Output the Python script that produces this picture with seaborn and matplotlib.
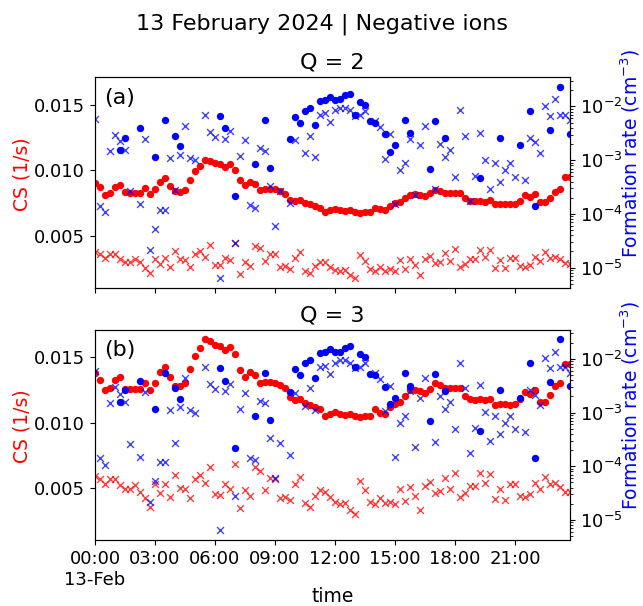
"""Condensation sink and formation rate of negative ions, 13 Feb 2024."""

import matplotlib

matplotlib.use("Agg")
import matplotlib.dates as mdates
import matplotlib.pyplot as plt
import matplotlib.ticker as ticker
import numpy as np
import pandas as pd
import seaborn as sns

nan = np.nan

# 15-min timestamps for the day
times = pd.date_range("2024-02-13 00:00", "2024-02-13 23:45", freq="15min")

# CS (1/s), Q = 2 : dots and crosses
cs_q2_dot = [
    0.00905, 0.00869, 0.00813, 0.00828, 0.00869, 0.00887, 0.00831, 0.00823, 0.00823, 0.00823,
    0.00862, 0.00818, 0.00856, 0.00912, 0.00938, 0.00882, 0.00844, 0.00836, 0.00849, 0.00925,
    0.00994, 0.01035, 0.01078, 0.01073, 0.01052, 0.01045, 0.01027, 0.01045, 0.01002, 0.00925,
    0.00884, 0.00910, 0.00892, 0.00849, 0.00859, 0.00854, 0.00854, 0.00841, 0.00821, 0.00772,
    0.00765, 0.00770, 0.00752, 0.00739, 0.00727, 0.00714, 0.00681, 0.00694, 0.00701, 0.00696,
    0.00688, 0.00696, 0.00683, 0.00676, 0.00681, 0.00681, 0.00714, 0.00701, 0.00696, 0.00727,
    0.00747, 0.00760, 0.00785, 0.00811, 0.00816, 0.00811, 0.00803, 0.00823, 0.00849, 0.00841,
    0.00823, 0.00828, 0.00828, 0.00828, 0.00785, 0.00765, 0.00765, 0.00765, 0.00760, 0.00772,
    0.00739, 0.00744, 0.00744, 0.00739, 0.00744, 0.00765, 0.00808, 0.00795, 0.00816, 0.00757,
    0.00757, 0.00790, 0.00836, 0.00854, 0.00951, 0.00951,
]
cs_q2_cross = [
    0.00375, 0.00358, 0.00332, 0.00363, 0.00358, 0.00319, 0.00302, 0.00302, 0.00325, 0.00299,
    0.00251, 0.00213, 0.00325, 0.00281, 0.00332, 0.00263, 0.00383, 0.00319, 0.00312, 0.00261,
    0.00358, 0.00383, 0.00337, 0.00429, 0.00276, 0.00274, 0.00332, 0.00314, 0.00447, 0.00205,
    0.00302, 0.00269, 0.00421, 0.00403, 0.00307, 0.00363, 0.00358, 0.00261, 0.00269, 0.00248,
    0.00332, 0.00375, 0.00230, 0.00213, 0.00269, 0.00302, 0.00299, 0.00263, 0.00240, 0.00230,
    0.00238, 0.00197, 0.00179, 0.00350, 0.00307, 0.00243, 0.00230, 0.00263, 0.00230, 0.00243,
    0.00230, 0.00312, 0.00243, 0.00319, 0.00276, 0.00199, 0.00319, 0.00345, 0.00289, 0.00302,
    0.00365, 0.00307, 0.00396, 0.00263, 0.00281, 0.00325, 0.00325, 0.00391, 0.00337, 0.00391,
    0.00256, 0.00312, 0.00251, 0.00332, 0.00332, 0.00269, 0.00263, 0.00276, 0.00340, 0.00307,
    0.00375, 0.00332, 0.00337, 0.00319, 0.00294, 0.00286,
]

# CS (1/s), Q = 3 : dots and crosses
cs_q3_dot = [
    0.01378, 0.01327, 0.01248, 0.01268, 0.01327, 0.01352, 0.01260, 0.01258, 0.01258, 0.01258,
    0.01299, 0.01253, 0.01306, 0.01390, 0.01426, 0.01345, 0.01281, 0.01276, 0.01301, 0.01408,
    0.01510, 0.01569, 0.01638, 0.01620, 0.01595, 0.01587, 0.01554, 0.01579, 0.01523, 0.01403,
    0.01350, 0.01390, 0.01362, 0.01299, 0.01311, 0.01311, 0.01306, 0.01288, 0.01263, 0.01199,
    0.01171, 0.01179, 0.01153, 0.01135, 0.01120, 0.01102, 0.01051, 0.01069, 0.01082, 0.01069,
    0.01056, 0.01069, 0.01051, 0.01043, 0.01051, 0.01051, 0.01102, 0.01077, 0.01069, 0.01120,
    0.01145, 0.01161, 0.01204, 0.01248, 0.01250, 0.01242, 0.01225, 0.01260, 0.01301, 0.01288,
    0.01263, 0.01268, 0.01268, 0.01263, 0.01204, 0.01179, 0.01171, 0.01179, 0.01171, 0.01184,
    0.01135, 0.01140, 0.01140, 0.01135, 0.01140, 0.01179, 0.01235, 0.01217, 0.01250, 0.01158,
    0.01158, 0.01212, 0.01281, 0.01301, 0.01447, 0.01447,
]
cs_q3_cross = [
    0.00592, 0.00566, 0.00533, 0.00571, 0.00566, 0.00523, 0.00492, 0.00490, 0.00523, 0.00472,
    0.00421, 0.00354, 0.00528, 0.00459, 0.00533, 0.00431, 0.00599, 0.00502, 0.00490, 0.00426,
    0.00571, 0.00599, 0.00541, 0.00663, 0.00451, 0.00444, 0.00528, 0.00495, 0.00681, 0.00349,
    0.00482, 0.00439, 0.00661, 0.00630, 0.00485, 0.00574, 0.00571, 0.00421, 0.00433, 0.00405,
    0.00528, 0.00587, 0.00388, 0.00357, 0.00439, 0.00485, 0.00472, 0.00431, 0.00395, 0.00375,
    0.00388, 0.00329, 0.00303, 0.00553, 0.00482, 0.00395, 0.00375, 0.00426, 0.00382, 0.00395,
    0.00375, 0.00490, 0.00400, 0.00507, 0.00439, 0.00336, 0.00515, 0.00546, 0.00459, 0.00477,
    0.00574, 0.00490, 0.00612, 0.00431, 0.00459, 0.00515, 0.00515, 0.00612, 0.00536, 0.00610,
    0.00413, 0.00495, 0.00408, 0.00528, 0.00528, 0.00439, 0.00433, 0.00451, 0.00541, 0.00490,
    0.00587, 0.00528, 0.00541, 0.00510, 0.00469, 0.00469,
]

# formation rate (cm^-3), given as log10 exponents; nan = no value
rate_dot_log10 = [
    nan, nan, nan, nan, nan, -2.81, -2.58, nan, nan, -2.41,
    nan, nan, -2.94, nan, -2.26, nan, -2.55, -2.74, nan, nan,
    nan, nan, nan, nan, nan, -2.18, -2.41, nan, -3.66, nan,
    nan, nan, -3.07, nan, -2.26, -3.14, nan, nan, nan, -2.61,
    -2.19, -2.31, -2.08, -2.02, -2.35, -1.89, -1.88, -1.82, -1.88, -1.87,
    -1.79, -1.77, -2.15, -1.91, -1.97, -2.28, -2.30, nan, -2.52, -2.84,
    -2.72, nan, -2.26, -2.50, nan, nan, nan, -3.16, -2.28, nan,
    -2.59, nan, nan, nan, nan, nan, nan, -3.34, nan, nan,
    nan, -2.58, nan, nan, nan, -2.72, nan, -2.08, -3.85, nan,
    nan, -2.44, nan, -1.63, nan, -2.51,
]
rate_cross_log10 = [
    -2.23, -3.85, -3.97, -2.82, -2.53, -2.65, -2.81, -3.58, nan, -3.82,
    -2.61, -4.67, -4.28, -3.92, -3.92, -2.96, -3.56, -2.90, -2.36, -2.96,
    -3.00, nan, -2.16, -2.47, -2.57, -5.19, -2.60, -2.46, -4.55, -2.93,
    -2.63, -3.84, -3.89, -2.78, -2.83, -3.48, -4.22, -3.57, nan, -3.79,
    -2.63, nan, -2.87, -2.55, -2.95, -2.16, -2.13, -2.29, -2.07, -2.02,
    -2.03, -2.07, -2.18, -2.16, -2.08, nan, -2.27, -2.38, -2.97, -2.51,
    -3.82, -3.19, -3.06, -2.60, -3.64, -2.72, -2.36, nan, -3.54, -2.70,
    -2.94, -2.81, -3.31, -2.07, -2.55, -3.76, -3.29, -2.49, -2.99, -3.53,
    -3.06, -3.40, -3.19, -3.06, -3.31, nan, -3.37, -2.58, -2.67, -2.86,
    -1.99, -2.18, -1.87, -2.15, -2.16, -2.26,
]

panels = [("Q = 2", "(a)", cs_q2_dot, cs_q2_cross), ("Q = 3", "(b)", cs_q3_dot, cs_q3_cross)]

plt.rcParams["font.size"] = 13.5
plt.rcParams["xtick.labelsize"] = 13
plt.rcParams["ytick.labelsize"] = 13

fig, axes = plt.subplots(2, 1, figsize=(6.43, 6.06), dpi=100, sharex=True, sharey=True)
fig.subplots_adjust(left=0.1477, right=0.8865, top=0.8724, bottom=0.1089, hspace=0.2)

rate_dot = 10 ** np.array(rate_dot_log10)
rate_cross = 10 ** np.array(rate_cross_log10)


def time_fmt(x, pos=None):
    d = mdates.num2date(x)
    if d.hour == 0 and d.minute == 0:
        return d.strftime("%H:%M\n%d-%b")
    return d.strftime("%H:%M")


for ax, (title, tag, cs_dot, cs_cross) in zip(axes, panels):
    df = pd.DataFrame(
        {
            "time": times,
            "cs_dot": cs_dot,
            "cs_cross": cs_cross,
            "rate_dot": rate_dot,
            "rate_cross": rate_cross,
        }
    )

    sns.scatterplot(data=df, x="time", y="cs_dot", ax=ax, color="red", s=28, linewidth=0)
    sns.scatterplot(data=df, x="time", y="cs_cross", ax=ax, color="red", marker="x", s=24,
                    linewidth=1, alpha=0.75)

    ax2 = ax.twinx()
    ax2.set_yscale("log")
    sns.scatterplot(data=df, x="time", y="rate_dot", ax=ax2, color="blue", s=28, linewidth=0)
    sns.scatterplot(data=df, x="time", y="rate_cross", ax=ax2, color="blue", marker="x", s=24,
                    linewidth=1, alpha=0.75)
    ax2.set_ylim(10 ** -5.372, 10 ** -1.458)
    ax2.set_ylabel("Formation rate (cm$^{-3}$)", color="blue")
    ax2.yaxis.set_label_coords(1.103, 0.64)
    ax2.set_xlabel("")

    ax.set_title(title, fontsize=16)
    ax.text(0.02, 0.95, tag, transform=ax.transAxes, fontsize=16, va="top", ha="left")
    ax.set_ylabel("CS (1/s)", color="red")
    ax.yaxis.set_label_coords(-0.134, 0.54)
    ax.set_xlabel("")

axes[0].set_ylim(0.00103, 0.0171)
axes[0].set_yticks([0.005, 0.010, 0.015])
axes[1].set_xlim(times[0], times[-1])
axes[1].xaxis.set_major_locator(mdates.HourLocator(byhour=range(0, 24, 3)))
axes[1].xaxis.set_major_formatter(ticker.FuncFormatter(time_fmt))
axes[1].set_xlabel("time", labelpad=-1)

fig.suptitle("13 February 2024 | Negative ions", fontsize=16, y=0.978)

fig.savefig("out.png", dpi=100)
plt.close(fig)
